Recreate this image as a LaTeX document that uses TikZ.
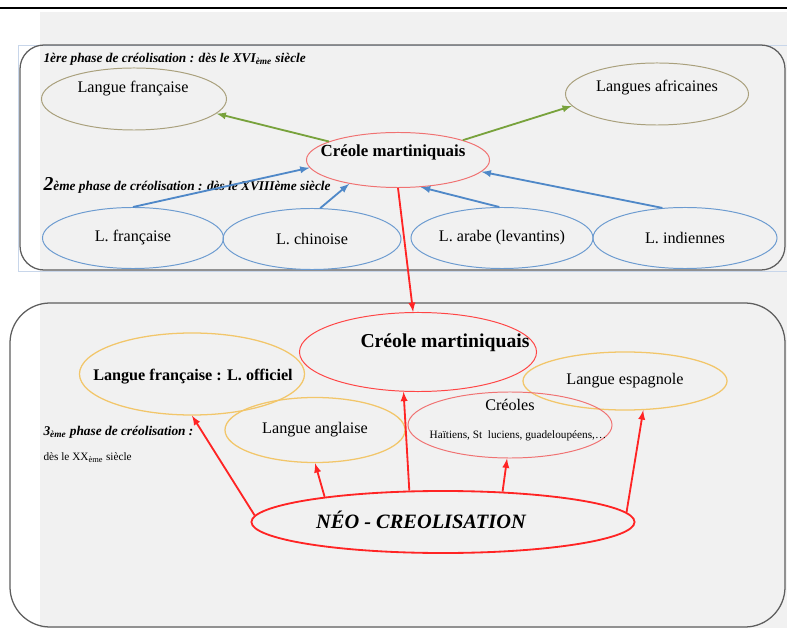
\documentclass[tikz,border=0pt]{standalone}
\usepackage{fontspec}
\setmainfont{Liberation Serif}
\usetikzlibrary{shapes}

\definecolor{pagegray}{HTML}{F1F1F1}
\definecolor{boxline}{HTML}{5E5E5E}
\definecolor{frameblue}{HTML}{C8D6EA}
\definecolor{oliveline}{HTML}{A9A07C}
\definecolor{softred}{HTML}{F07272}
\definecolor{strongred}{HTML}{FF2424}
\definecolor{skyline}{HTML}{6C9BD0}
\definecolor{skyarrow}{HTML}{4F88C8}
\definecolor{leafgreen}{HTML}{78A23C}
\definecolor{goldline}{HTML}{F2C66A}

\begin{document}
\begin{tikzpicture}[x=0.025cm,y=-0.025cm,thick]

\tikzstyle{origin}=[ellipse, draw=oliveline, line width=0.7pt, inner sep=0pt, minimum height=1.55cm]
\tikzstyle{source}=[ellipse, draw=skyline, line width=0.7pt, inner sep=0pt, minimum height=1.525cm, font=\fontsize{11.5}{13}\selectfont]
\tikzstyle{contact}=[ellipse, draw=goldline, line width=0.9pt, inner sep=0pt, font=\fontsize{11.5}{13}\selectfont]
\tikzstyle{creole}=[ellipse, draw=softred, line width=0.7pt, inner sep=0pt]
\tikzstyle{neo}=[ellipse, draw=strongred, line width=1.3pt, inner sep=0pt]
\tikzstyle{label}=[inner sep=0pt, font=\fontsize{11.5}{13}\selectfont]
\tikzstyle{phase}=[inner sep=0pt, anchor=west, font=\fontsize{9.5}{11}\selectfont\bfseries\itshape]
\tikzstyle{greenlink}=[-latex, leafgreen, line width=1.3pt]
\tikzstyle{bluelink}=[-latex, skyarrow, line width=1.3pt]
\tikzstyle{redlink}=[-latex, strongred, line width=1.3pt]

	\useasboundingbox (0,0) rectangle (787,628);
	\fill[pagegray] (40,12) rectangle (787,628);
	\draw[black, line width=0.9pt] (0,8) -- (787,8);

	% boxes
	\draw[frameblue, line width=0.5pt] (18,45) rectangle (787,271);
	\draw[boxline, line width=0.9pt, rounded corners=0.6cm] (20,45) rectangle (785,270);
	\draw[boxline, line width=0.9pt, rounded corners=1cm] (10,303) rectangle (785,627);

	% 1st phase
	\node[phase] (p1) at (43,59) {1ère phase de créolisation : dès le XVI\textsubscript{ème} siècle};
	\node[origin, minimum width=4.625cm] (lf) at (134,99) {};
	\node[label] (lft) at (133,89) {Langue française};
	\node[origin, minimum width=4.575cm] (la) at (657,94) {};
	\node[label] (lat) at (657,88) {Langues africaines};
	\node[creole, minimum width=4.575cm, minimum height=1.375cm] (cma) at (398,160) {};
	\node[label, font=\fontsize{12}{14}\selectfont\bfseries] (cmat) at (393,152) {Créole martiniquais};

	\draw[greenlink] (cma.165) -- (lf.-10);
	\draw[greenlink] (cma.17) -- (la.188);

	% 2nd phase
	\node[phase] (p2) at (43,185) {{\fontsize{14}{14}\selectfont 2}ème phase de créolisation : dès le XVIIIème siècle};
	\node[source, minimum width=4.525cm] (bf) at (133,238) {L. française};
	\node[source, minimum width=4.45cm] (bc) at (312,239) {L. chinoise};
	\node[source, minimum width=4.55cm] (ba) at (502,238) {L. arabe (levantins)};
	\node[source, minimum width=4.6cm] (bi) at (685,238) {L. indiennes};

	\draw[bluelink] (bf.north) -- (cma.185);
	\draw[bluelink] (bc.75) -- (cma.206);
	\draw[bluelink] (ba.95) -- (cma.-50);
	\draw[bluelink] (bi.127) -- (cma.-8);

	% 3rd phase
	\node[creole, draw=strongred!85, minimum width=5.925cm, minimum height=1.975cm] (cmb) at (418,352) {};
	\node[label, font=\fontsize{14}{16}\selectfont\bfseries] (cmbt) at (445,343) {Créole martiniquais};
	\draw[redlink] (cma.south) -- (cmb.97);

	\node[contact, minimum width=5.625cm, minimum height=2.05cm] (lfo) at (192,374) {};
	\node[label, font=\fontsize{11.5}{13}\selectfont\bfseries] (lfot) at (193,377) {Langue française : L. officiel};
	\node[contact, minimum width=5.1cm, minimum height=1.45cm] (esp) at (625,381) {Langue espagnole};
	\node[contact, minimum width=4.5cm, minimum height=1.625cm] (ang) at (315,430) {Langue anglaise};
	\node[creole, minimum width=5.1cm, minimum height=1.65cm] (cre) at (510,425) {};
	\node[label] (cret) at (510,405) {Créoles};
	\node[label, font=\fontsize{8}{9}\selectfont] (cres) at (518,436) {Haïtiens, St\ \ luciens, guadeloupéens,…};

	\node[phase] (p3) at (43,432) {3\textsubscript{ème} phase de créolisation :};
	\node[inner sep=0pt, anchor=west, font=\fontsize{8}{9}\selectfont] (p3b) at (43,458) {dès le XX\textsubscript{ème} siècle};

	\node[neo, minimum width=9.575cm, minimum height=1.55cm] (neo) at (443,522) {};
	\node[label, font=\fontsize{14.5}{16}\selectfont\bfseries\itshape] (neot) at (421,520) {NÉO - CREOLISATION};

	% Neo links
	\draw[redlink] (neo.178) -- (lfo.south);
	\draw[redlink] (neo.168) -- (ang.south);
	\draw[redlink] (neo.137) -- (cmb.250);
	\draw[redlink] (neo.27) -- (cre.265);
	\draw[redlink] (neo.3) -- (esp.-58);
\end{tikzpicture}
\end{document}
